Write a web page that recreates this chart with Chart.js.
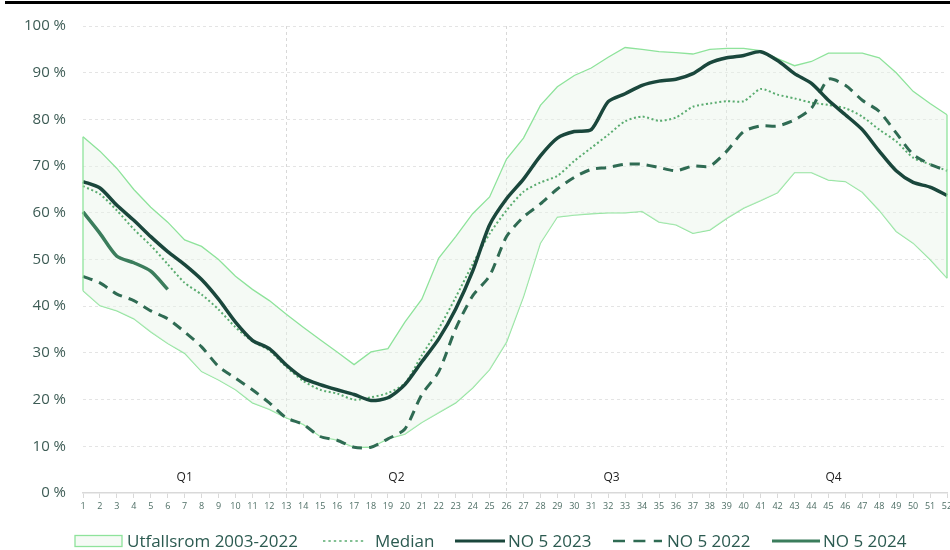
<!DOCTYPE html>
<html>
<head>
<meta charset="utf-8">
<script src="https://cdn.jsdelivr.net/npm/chart.js@4.4.1/dist/chart.umd.min.js"></script>
<style>
  body { margin: 0; background: #fff; }
  #wrap { position: relative; width: 950px; height: 550px; }
  #topline { position: absolute; left: 5px; right: 0; top: 1px; height: 3px; background: #000; }
</style>
</head>
<body>
<div id="wrap">
  <canvas id="chart" width="950" height="550"></canvas>
  <div id="topline"></div>
</div>
<script>
// weeks on the x axis
const weeks = [1,2,3,4,5,6,7,8,9,10,11,12,13,14,15,16,17,18,19,20,21,22,23,24,25,26,
   27,28,29,30,31,32,33,34,35,36,37,38,39,40,41,42,43,44,45,46,47,48,49,50,51,52];

// Utfallsrom 2003-2022 (min / max)
const bandLow = [43.3,40.1,39,37.3,34.5,32,29.9,26,24.2,22.1,
   19.3,17.9,16.1,14.7,12.1,11.3,9.8,9.8,11.6,12.6,
   15.1,17.2,19.3,22.5,26.4,32.3,42,53.5,59.1,59.5,
   59.8,60,60,60.3,58,57.4,55.6,56.3,58.8,61,
   62.6,64.3,68.6,68.6,67,66.7,64.4,60.5,56,53.5,50,46];
const bandHigh = [76.3,73.2,69.5,65,61.2,58,54.2,52.8,50,46.4,
   43.6,41.2,38.3,35.5,32.8,30.2,27.5,30.2,30.9,36.6,
   41.5,50.3,54.9,59.8,63.4,71.5,76,83,87,89.4,
   91,93.3,95.4,95,94.5,94.3,94,95,95.2,95.2,
   94.7,93,91.5,92.4,94.2,94.2,94.2,93.2,90,86,83.4,81];

const median = [65.7,64,60.5,56.5,53,49,45,42.5,39.3,35.5,
   32.5,30.5,27,24,22.1,21.3,20,20.5,21.4,23.5,
   29.5,35.2,41.9,49,55.5,60.5,64.5,66.5,67.9,71.1,
   73.9,76.7,79.6,80.6,79.7,80.4,82.7,83.4,83.9,83.9,
   86.5,85.3,84.5,83.6,83.1,82.4,80.6,77.8,75.3,71.8,70.4,69];

const no5_2023 = [66.7,65.3,61.6,58.4,54.9,51.7,48.9,45.7,41.5,36.6,
   32.7,30.9,27.4,24.6,23.2,22.1,21.1,19.8,20.4,23.2,
   28.1,33,39.4,47.5,57.4,63,67.2,72.2,76,77.4,
   77.8,83.8,85.5,87.3,88.2,88.6,89.8,92.1,93.2,93.7,
   94.5,92.6,89.8,87.7,84.1,81,77.8,73.2,69,66.5,65.5,63.7];

const no5_2022 = [46.4,45,42.6,41.2,39,37.3,34.5,31.3,27.1,24.6,
   22.1,19.3,16.1,14.7,12.1,11.3,9.8,9.8,11.6,13.7,
   21.1,26,35.2,42.2,46.5,54.9,59.1,61.9,65.1,67.6,
   69.3,69.7,70.4,70.4,69.7,69,70,70,73.2,77.4,
   78.6,78.6,79.9,82.4,88.6,87.3,84.1,81.7,77.1,72.5,70.4,69];

const no5_2024 = [60.2,55.6,50.7,49.3,47.5,43.6];

const legendNames = ['Utfallsrom 2003-2022', 'Median', 'NO 5 2023', 'NO 5 2022', 'NO 5 2024'];
const quarterLabels = ['Q1', 'Q2', 'Q3', 'Q4'];
const quarterWeeks = [7, 19.5, 32.2, 45.3];
const quarterLines = [13, 26, 39];

// legend layout (pixels): sample start, sample end, text start
const legendSampleX = [75, 323, 455, 613, 772];
const legendSampleEnd = [122, 366, 505, 662, 820];
const legendTextX = [127, 375, 508, 667, 823];

const bandBorder = '#8ee39b';
const bandFill = 'rgba(232,245,232,0.45)';
const fontName = '"Open Sans", "Noto Sans", sans-serif';

// extra drawing: band end caps, quarter labels and the legend row
const extras = {
   id: 'extras',
   afterDatasetsDraw(chart) {
      const ctx = chart.ctx;
      const xs = chart.scales.x, ys = chart.scales.y;
      const last = weeks.length - 1;
      ctx.save();
      ctx.strokeStyle = bandBorder;
      ctx.lineWidth = 1.3;
      [0, last].forEach(i => {
         ctx.beginPath();
         ctx.moveTo(xs.getPixelForValue(i), ys.getPixelForValue(bandLow[i]));
         ctx.lineTo(xs.getPixelForValue(i), ys.getPixelForValue(bandHigh[i]));
         ctx.stroke();
      });
      ctx.restore();
   },
   afterDraw(chart) {
      const ctx = chart.ctx;
      const xs = chart.scales.x, area = chart.chartArea;
      ctx.save();
      ctx.font = '12px ' + fontName;
      ctx.fillStyle = '#222';
      ctx.textAlign = 'center';
      ctx.textBaseline = 'middle';
      quarterLabels.forEach((q, i) => {
         ctx.fillText(q, xs.getPixelForValue(quarterWeeks[i] - 1), area.bottom - 15);
      });

      // legend
      ctx.font = '17px ' + fontName;
      ctx.textAlign = 'left';
      const ly = 541;
      chart.data.datasets.slice(1).forEach((ds, i) => {
         const x0 = legendSampleX[i], x1 = legendSampleEnd[i];
         if (i === 0) {
            ctx.fillStyle = bandFill;
            ctx.fillRect(x0, ly - 5.5, x1 - x0, 11);
            ctx.strokeStyle = bandBorder;
            ctx.lineWidth = 1.3;
            ctx.strokeRect(x0, ly - 5.5, x1 - x0, 11);
         } else {
            ctx.strokeStyle = ds.borderColor;
            ctx.lineWidth = ds.borderWidth - 0.5;
            ctx.setLineDash(ds.borderDash ? ds.borderDash.map(d => d * 1.2) : []);
            ctx.beginPath();
            ctx.moveTo(x0, ly);
            ctx.lineTo(x1, ly);
            ctx.stroke();
            ctx.setLineDash([]);
         }
         ctx.fillStyle = '#2b5a50';
         ctx.fillText(legendNames[i], legendTextX[i], ly + 1);
      });
      ctx.restore();
   }
};

new Chart(document.getElementById('chart'), {
   type: 'line',
   data: {
      labels: weeks,
      datasets: [
         { label: 'min', data: bandLow, borderColor: bandBorder, borderWidth: 1.3,
           pointRadius: 0, fill: false, tension: 0, order: 10 },
         { label: legendNames[0], data: bandHigh, borderColor: bandBorder, borderWidth: 1.3,
           pointRadius: 0, fill: '-1', backgroundColor: bandFill, tension: 0, order: 9 },
         { label: legendNames[1], data: median, borderColor: '#5aac70', borderWidth: 2,
           borderDash: [2, 2.5], pointRadius: 0, fill: false, tension: 0.25, order: 5 },
         { label: legendNames[2], data: no5_2023, borderColor: '#1a473c', borderWidth: 3.5,
           pointRadius: 0, fill: false, tension: 0.25, order: 3 },
         { label: legendNames[3], data: no5_2022, borderColor: '#2f6b53', borderWidth: 3,
           borderDash: [10, 7], pointRadius: 0, fill: false, tension: 0.25, order: 4 },
         { label: legendNames[4], data: no5_2024, borderColor: '#3b7d5c', borderWidth: 3.5,
           pointRadius: 0, fill: false, tension: 0.25, order: 2 }
      ]
   },
   options: {
      responsive: false,
      devicePixelRatio: 1,
      animation: false,
      layout: { padding: { top: 20, right: 3, bottom: 27, left: 0 } },
      plugins: {
         legend: { display: false },
         tooltip: { enabled: false }
      },
      scales: {
         x: {
            offset: false,
            grid: {
               color: c => quarterLines.includes(c.index + 1) ? '#d8d8d8' : 'transparent',
               lineWidth: 1,
               drawTicks: true,
               tickColor: '#d9d9d9',
               tickLength: 5,
               tickBorderDash: []
            },
            border: { display: true, color: '#d9d9d9', width: 1.5, dash: [3, 3] },
            ticks: {
               autoSkip: false, maxRotation: 0, padding: 3,
               color: '#4f6f66', font: { size: 9, family: fontName }
            },
            afterFit: s => { s.paddingLeft = 0; s.paddingRight = 0; s.height = 30; }
         },
         y: {
            min: 0, max: 100,
            ticks: {
               stepSize: 10, padding: 17,
               color: '#3d5c55', font: { size: 15, family: fontName },
               callback: v => v + ' %'
            },
            grid: {
               color: c => c.tick && c.tick.value === 0 ? 'transparent' : '#e4e4e4',
               drawTicks: false
            },
            border: { display: false, dash: [3, 3] },
            afterFit: s => { s.width = 83; }
         }
      }
   },
   plugins: [extras]
});
</script>
</body>
</html>
